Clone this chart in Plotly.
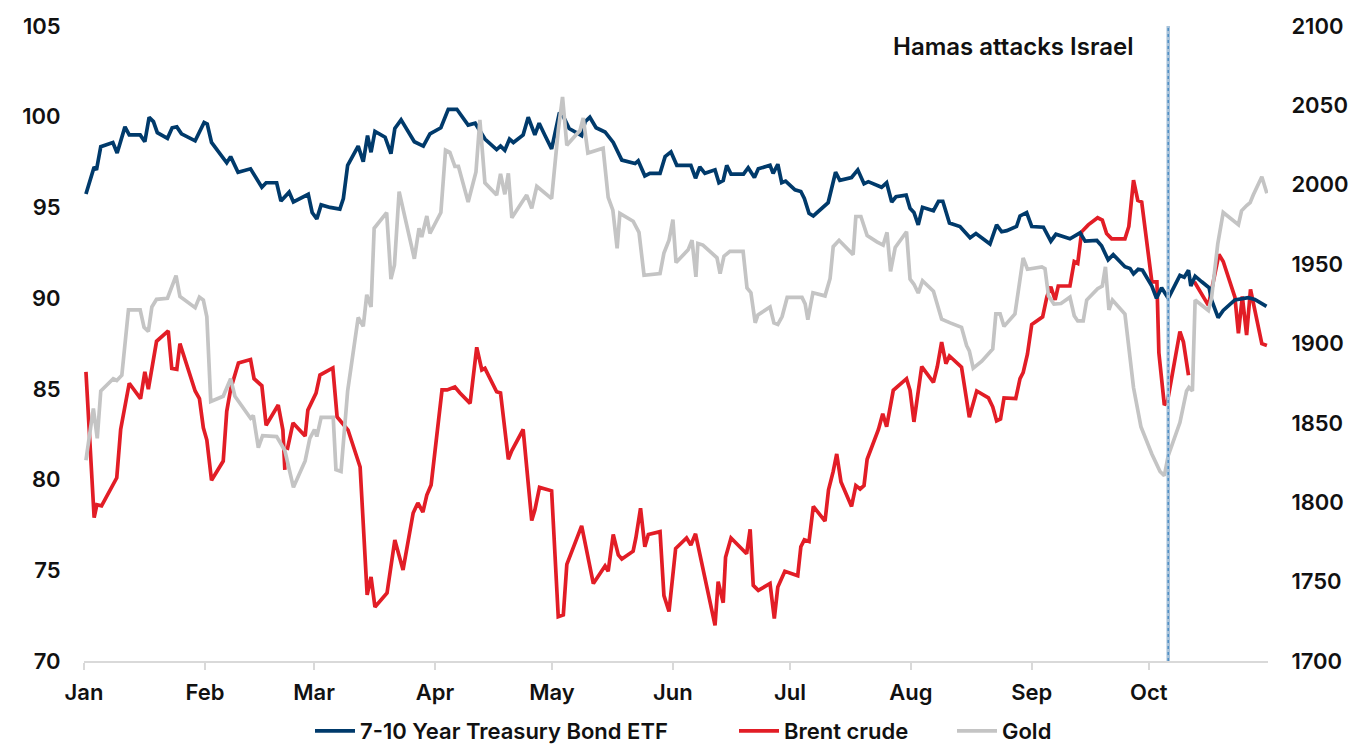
import pandas as pd
import plotly.graph_objects as go

# x positions are days elapsed since 1 Jan 2023
base_date = "2023-01-01"

blue_days = [0.5, 2.6, 3.2, 4.3, 7.4, 8.5, 10.5, 11.6, 14.4, 15.6, 16.7, 17.8, 18.8, 21.4, 22.6, 23.8, 25.0,
             28.5, 30.8, 31.6, 32.7, 36.6, 37.6, 39.5, 42.7, 45.6, 46.7, 49.4, 50.5, 52.6, 53.7, 57.5, 58.5,
             59.7, 60.8, 63.1, 65.6, 66.5, 67.6, 70.3, 71.6, 72.7, 73.6, 74.6, 77.2, 78.7, 79.7, 81.3, 84.7,
             87.0, 88.7, 91.5, 93.4, 95.6, 98.5, 100.3, 102.8, 105.8, 106.8, 107.9, 109.1, 110.1, 112.6,
             113.9, 115.6, 116.7, 118.2, 119.9, 121.9, 122.9, 124.4, 127.6, 128.5, 129.7, 131.3, 133.6,
             135.7, 137.9, 141.3, 142.1, 143.8, 145.1, 147.7, 149.0, 150.5, 152.0, 155.6, 156.8, 157.9,
             159.2, 161.8, 162.8, 163.9, 164.8, 165.9, 169.1, 170.3, 171.9, 172.9, 175.9, 176.7, 177.9,
             178.9, 179.9, 182.3, 183.8, 184.7, 185.9, 187.0, 190.8, 192.7, 193.8, 196.8, 198.4, 200.0,
             201.1, 204.5, 205.8, 207.1, 208.2, 210.8, 211.8, 212.8, 213.9, 215.0, 217.8, 219.1, 220.2,
             221.9, 224.6, 227.2, 228.7, 232.3, 234.0, 235.3, 236.6, 239.1, 240.0, 241.7, 243.0, 246.0,
             247.9, 249.2, 252.8, 255.4, 256.7, 259.7, 260.9, 262.6, 263.9, 266.9, 268.2, 269.1, 270.3,
             271.4, 273.8, 275.0, 276.3, 278.0, 279.3, 281.0, 282.1, 283.2, 283.8, 284.9, 286.6, 288.5,
             289.1, 290.8, 292.1, 295.1, 298.5, 300.2, 303.2]
blue_vals = [95.74, 97.23, 97.07, 98.35, 98.58, 98.0, 99.44, 99.0, 99.0, 98.62, 99.97, 99.73, 99.12, 98.81,
             99.39, 99.44, 99.06, 98.67, 99.68, 99.6, 98.58, 97.46, 97.8, 96.94, 97.13, 96.11, 96.36, 96.36,
             95.35, 95.84, 95.3, 95.72, 94.72, 94.37, 95.14, 95.0, 94.91, 95.49, 97.32, 98.38, 97.52, 98.96,
             98.04, 99.19, 98.87, 97.96, 99.35, 99.83, 98.62, 98.38, 99.06, 99.39, 100.41, 100.41, 99.54,
             99.64, 98.77, 98.19, 98.38, 98.15, 98.77, 98.58, 99.0, 99.97, 99.0, 99.64, 98.96, 98.23, 100.22,
             100.02, 99.35, 98.96, 99.73, 99.97, 99.39, 99.16, 98.58, 97.61, 97.42, 97.57, 96.74, 96.88,
             96.88, 97.8, 98.06, 97.32, 97.32, 96.61, 97.23, 96.88, 97.07, 96.36, 96.49, 97.32, 96.84, 96.84,
             97.19, 96.65, 97.13, 97.32, 96.88, 97.38, 96.36, 96.45, 95.97, 95.88, 95.49, 94.68, 94.53, 95.26,
             96.94, 96.49, 96.65, 97.07, 96.3, 96.42, 96.11, 96.36, 95.3, 95.59, 95.68, 94.95, 94.72, 94.04,
             95.01, 94.82, 95.34, 95.34, 94.14, 93.95, 93.33, 93.56, 92.98, 94.04, 93.66, 93.72, 93.95, 94.53,
             94.72, 93.95, 93.91, 93.14, 93.52, 93.27, 93.6, 93.14, 93.18, 92.89, 92.11, 92.4, 91.73, 91.63,
             91.34, 91.59, 91.54, 90.67, 89.99, 90.57, 89.99, 90.57, 91.25, 91.15, 91.54, 90.67, 91.21, 90.9,
             90.57, 89.9, 88.93, 89.32, 89.9, 90.03, 89.93, 89.55]

red_days = [0.5, 2.6, 3.3, 4.5, 8.4, 9.4, 11.6, 14.5, 15.6, 16.5, 18.6, 21.6, 22.5, 23.8, 24.6, 28.5, 29.6,
            30.6, 31.5, 32.7, 35.7, 36.6, 37.6, 39.6, 42.7, 43.6, 45.6, 46.7, 49.8, 51.0, 51.5, 51.8, 52.1,
            53.6, 56.7, 57.4, 59.5, 60.5, 63.8, 64.9, 67.7, 70.8, 72.6, 73.6, 74.6, 77.7, 79.7, 81.8, 84.4,
            85.6, 86.9, 87.9, 89.0, 91.8, 93.1, 95.1, 96.4, 99.0, 100.7, 102.0, 102.8, 105.8, 106.8, 108.8,
            109.7, 112.6, 114.8, 115.6, 116.8, 119.9, 121.6, 122.9, 123.8, 127.6, 130.6, 133.6, 134.4, 135.7,
            137.0, 137.9, 140.8, 141.5, 142.7, 143.8, 144.7, 147.7, 148.7, 150.0, 151.7, 154.5, 155.6, 156.8,
            161.8, 162.6, 163.9, 164.5, 165.9, 169.9, 170.8, 171.6, 172.9, 175.9, 177.0, 177.9, 179.7, 183.0,
            183.8, 184.7, 185.9, 187.0, 190.0, 190.9, 192.1, 193.0, 194.1, 196.8, 197.9, 199.0, 200.0, 200.8,
            203.7, 204.8, 205.8, 207.5, 210.9, 211.8, 212.8, 213.9, 214.8, 217.8, 218.8, 219.9, 221.0, 221.9,
            225.0, 227.0, 228.9, 231.9, 233.0, 234.0, 235.0, 235.9, 238.9, 240.0, 240.8, 241.9, 243.0, 245.8,
            246.9, 247.9, 249.0, 249.8, 252.8, 253.9, 254.8, 255.8, 257.5, 259.9, 261.1, 262.2, 263.5, 266.9,
            267.9, 269.1, 270.2, 271.2, 273.8, 275.1, 275.6, 277.0, 277.8, 281.0, 281.9, 283.2, 284.0, 284.7,
            286.6, 288.3, 291.0, 292.1, 295.1, 296.0, 297.0, 298.1, 299.1, 302.0, 303.3]
red_vals = [85.94, 77.9, 78.61, 78.55, 80.1, 82.76, 85.31, 84.46, 85.94, 84.98, 87.62, 88.2, 86.13, 86.08,
            87.49, 84.88, 84.46, 82.85, 82.18, 79.96, 81.02, 83.76, 84.98, 86.43, 86.62, 85.56, 85.17, 82.99,
            84.11, 82.73, 80.53, None, 81.63, 83.12, 82.4, 83.83, 84.77, 85.76, 86.15, 83.45, 82.73, 80.69,
            73.64, 74.63, 72.98, 73.75, 76.67, 75.02, 78.16, 78.71, 78.21, 79.15, 79.7, 84.94, 84.94, 85.1,
            84.77, 84.2, 87.29, 86.04, 86.13, 84.84, 84.78, 81.12, 81.6, 82.76, 77.74, 78.32, 79.57, 79.38,
            72.44, 72.54, 75.33, 77.45, 74.27, 75.24, 74.95, 76.97, 75.85, 75.62, 76.05, 76.78, 78.42, 76.3,
            76.97, 77.13, 73.6, 72.73, 76.2, 76.78, 76.39, 77.01, 71.96, 74.37, 73.21, 75.72, 76.78, 75.91,
            77.26, 74.17, 73.89, 74.27, 72.34, 74.08, 74.95, 74.7, 76.3, 76.68, 76.59, 78.52, 77.71, 79.44,
            80.45, 81.41, 79.87, 78.52, 79.67, 79.48, 79.67, 81.12, 82.76, 83.63, 82.92, 84.92, 85.56, 84.92,
            83.18, 85.08, 86.23, 85.36, 86.23, 87.58, 86.39, 86.81, 86.19, 83.43, 84.88, 84.5, 84.01, 83.24,
            83.34, 84.5, 84.46, 85.56, 85.89, 86.91, 88.55, 88.97, 90.09, 90.63, 89.9, 90.67, 90.67, 92.02,
            91.92, 93.66, 94.04, 94.43, 94.3, 93.56, 93.27, 93.27, 93.95, 96.5, 95.39, 95.3, 90.9, 90.9, 87.0,
            84.11, 84.3, 88.16, 87.58, 85.75, None, 90.9, 90.18, 89.6, 92.41, 92.02, 90.05, 88.06, 90.09,
            87.97, 90.48, 87.49, 87.39]

gold_days = [0.5, 2.4, 3.4, 4.3, 7.5, 8.4, 9.7, 11.4, 14.4, 15.4, 16.5, 17.4, 18.6, 21.4, 23.6, 24.6, 28.5,
             29.6, 30.6, 31.5, 32.5, 35.7, 37.6, 38.7, 42.7, 43.4, 44.7, 45.8, 49.4, 51.5, 53.7, 56.7, 57.9,
             59.1, 59.7, 60.8, 63.9, 64.6, 65.9, 67.6, 70.3, 71.6, 72.5, 73.6, 74.4, 77.6, 78.7, 79.6, 80.8,
             84.7, 85.9, 86.6, 87.9, 88.7, 91.5, 92.7, 93.8, 95.1, 96.0, 98.5, 100.5, 101.5, 102.8, 105.8,
             106.8, 107.9, 108.8, 109.7, 113.5, 114.8, 116.1, 119.9, 121.6, 122.7, 123.8, 127.2, 128.0, 129.2,
             133.1, 134.4, 135.6, 136.7, 137.4, 140.8, 142.3, 143.6, 147.7, 148.7, 150.0, 151.0, 151.8, 154.9,
             155.9, 156.9, 157.4, 158.7, 162.3, 163.1, 164.1, 165.6, 169.0, 170.0, 171.0, 172.1, 172.8, 175.9,
             176.9, 177.9, 179.0, 180.3, 184.1, 184.9, 185.6, 186.9, 190.0, 191.3, 192.1, 193.6, 197.2, 197.9,
             199.2, 200.8, 203.3, 204.9, 205.9, 206.8, 208.0, 210.9, 211.8, 212.8, 213.9, 215.0, 217.8, 219.9,
             222.1, 225.0, 226.3, 227.0, 228.0, 230.2, 233.0, 233.8, 234.9, 235.9, 238.7, 240.8, 241.9, 245.6,
             246.4, 247.3, 248.7, 250.5, 252.8, 253.9, 254.8, 256.2, 257.1, 259.9, 261.1, 261.9, 262.8, 263.7,
             266.9, 269.1, 271.0, 273.8, 275.9, 277.0, 278.0, 281.0, 282.7, 283.3, 284.2, 284.9, 288.3, 289.1,
             290.7, 292.1, 296.0, 296.8, 298.1, 299.0, 299.8, 302.0, 303.3]
gold_vals = [1826.4, 1859.1, 1840.3, 1870.1, 1877.8, 1876.7, 1880.0, 1921.2, 1921.2, 1910.2, 1907.6, 1923.0,
             1927.8, 1928.5, 1942.8, 1929.6, 1922.6, 1929.2, 1927.4, 1916.8, 1863.5, 1866.8, 1877.8, 1866.8,
             1852.9, 1854.6, 1834.4, 1841.9, 1841.4, 1832.6, 1809.4, 1826.0, 1840.3, 1845.8, 1841.4, 1853.5,
             1853.5, 1820.5, 1819.4, 1870.1, 1916.4, 1910.8, 1930.7, 1923.0, 1972.6, 1982.5, 1940.6, 1949.4,
             1995.7, 1953.4, 1972.6, 1967.1, 1980.3, 1969.3, 1982.5, 2021.8, 2020.4, 2011.6, 2011.6, 1989.1,
             2008.0, 2040.9, 2001.2, 1993.5, 2006.8, 1994.0, 2007.2, 1979.2, 1993.5, 1985.2, 1999.0, 1991.3,
             2034.3, 2055.3, 2024.9, 2034.3, 2042.0, 2020.0, 2023.0, 1992.0, 1984.0, 1960.0, 1982.0, 1977.0,
             1970.0, 1943.0, 1944.0, 1957.0, 1965.0, 1978.0, 1951.0, 1959.0, 1965.0, 1942.0, 1963.0, 1962.0,
             1954.0, 1944.0, 1955.0, 1958.0, 1958.0, 1935.0, 1932.0, 1913.0, 1918.0, 1923.0, 1913.0, 1912.0,
             1917.0, 1929.0, 1929.0, 1925.0, 1915.0, 1932.0, 1930.0, 1941.0, 1961.0, 1965.0, 1956.0, 1980.0,
             1980.0, 1968.0, 1964.0, 1962.0, 1970.0, 1945.5, 1960.5, 1970.4, 1940.6, 1937.3, 1931.8, 1939.5,
             1932.9, 1915.3, 1913.0, 1910.2, 1898.7, 1895.4, 1884.4, 1888.8, 1896.5, 1918.6, 1918.6, 1910.8,
             1918.6, 1953.9, 1946.8, 1948.3, 1947.2, 1930.0, 1924.8, 1925.2, 1929.2, 1917.5, 1914.2, 1914.2,
             1927.4, 1934.5, 1936.2, 1948.3, 1921.2, 1927.4, 1918.6, 1872.3, 1847.6, 1830.4, 1819.4, 1816.7,
             1829.3, 1850.2, 1870.1, 1872.3, 1870.1, 1927.4, 1920.8, 1928.5, 1962.7, 1982.5, 1974.8, 1983.6,
             1986.9, 1988.7, 1993.5, 2005.0, 1994.6]

series_names = ["7-10 Year Treasury Bond ETF", "Brent crude", "Gold"]
series_colors = ["#003A6B", "#E21D26", "#C4C4C4"]
month_ticks = ["2023-01-01", "2023-02-01", "2023-03-01", "2023-04-01", "2023-05-01", "2023-06-01",
               "2023-07-01", "2023-08-01", "2023-09-01", "2023-10-01"]
month_labels = ["Jan", "Feb", "Mar", "Apr", "May", "Jun", "Jul", "Aug", "Sep", "Oct"]
left_ticks = [70, 75, 80, 85, 90, 95, 100, 105]
right_ticks = [1700, 1750, 1800, 1850, 1900, 1950, 2000, 2050, 2100]
event_date = "2023-10-06"
event_label = "Hamas attacks Israel"


def to_dates(days):
    start = pd.Timestamp(base_date)
    return [start + pd.to_timedelta(d, unit="D") for d in days]


FONT = "Inter, Open Sans, sans-serif"
TXT = "#111111"
FS = 22
W, H = 1361, 749
ML, MR, MT, MB = 84, 93, 26, 88
PW, PH = W - ML - MR, H - MT - MB


def fnt(size=FS, weight=600):
    return dict(family=FONT, size=size, color=TXT, weight=weight)


fig = go.Figure()
fig.add_trace(go.Scatter(x=to_dates(gold_days), y=gold_vals, name=series_names[2], yaxis="y2",
                         mode="lines", line=dict(color=series_colors[2], width=3.7), legend="legend3"))
fig.add_trace(go.Scatter(x=to_dates(red_days), y=red_vals, name=series_names[1], connectgaps=False,
                         mode="lines", line=dict(color=series_colors[1], width=3.7), legend="legend2"))
fig.add_trace(go.Scatter(x=to_dates(blue_days), y=blue_vals, name=series_names[0],
                         mode="lines", line=dict(color=series_colors[0], width=3.7), legend="legend"))

# event marker line
fig.add_shape(type="line", xref="x", yref="paper", x0=event_date, x1=event_date, y0=0, y1=1,
              line=dict(color="#A9C3DA", width=3.5), layer="above")
fig.add_shape(type="line", xref="x", yref="paper", x0=event_date, x1=event_date, y0=0, y1=1,
              line=dict(color="#4F8FC6", width=1.5, dash="dot"), layer="above")
fig.add_annotation(text=event_label, xref="paper", yref="paper", x=(1135 - ML) / PW, y=(H - MB - 46) / PH,
                   xanchor="right", yanchor="middle", showarrow=False, font=fnt(24, 600))


def leg(xpx, ypx=731):
    return dict(orientation="h", xref="container", yref="container", x=xpx / W, xanchor="left",
                y=1 - ypx / H, yanchor="middle", font=fnt(), itemwidth=40,
                bgcolor="rgba(0,0,0,0)")


fig.update_layout(
    width=W, height=H,
    margin=dict(l=ML, r=MR, t=MT, b=MB, autoexpand=False),
    paper_bgcolor="white", plot_bgcolor="white",
    font=fnt(),
    showlegend=True,
    legend=leg(310), legend2=leg(734), legend3=leg(952),
    xaxis=dict(type="date", range=["2023-01-01", "2023-10-31 14:00"], tickvals=month_ticks,
               ticktext=month_labels, showgrid=False, showline=True, linecolor="#D9D9D9", linewidth=1.5,
               ticks="outside", ticklen=7, tickwidth=1.5, tickcolor="#D9D9D9", ticklabelstandoff=4,
               tickfont=fnt(), zeroline=False, automargin=False),
    yaxis=dict(range=[70, 105], tickvals=left_ticks, showgrid=False, zeroline=False, showline=False,
               ticks="outside", ticklen=18, tickcolor="rgba(0,0,0,0)", tickfont=fnt(), automargin=False),
    yaxis2=dict(range=[1700, 2100], tickvals=right_ticks, overlaying="y", side="right", showgrid=False,
                zeroline=False, showline=False, ticks="outside", ticklen=18, tickcolor="rgba(0,0,0,0)",
                tickfont=fnt(), automargin=False),
)

fig.write_html("out.html")
